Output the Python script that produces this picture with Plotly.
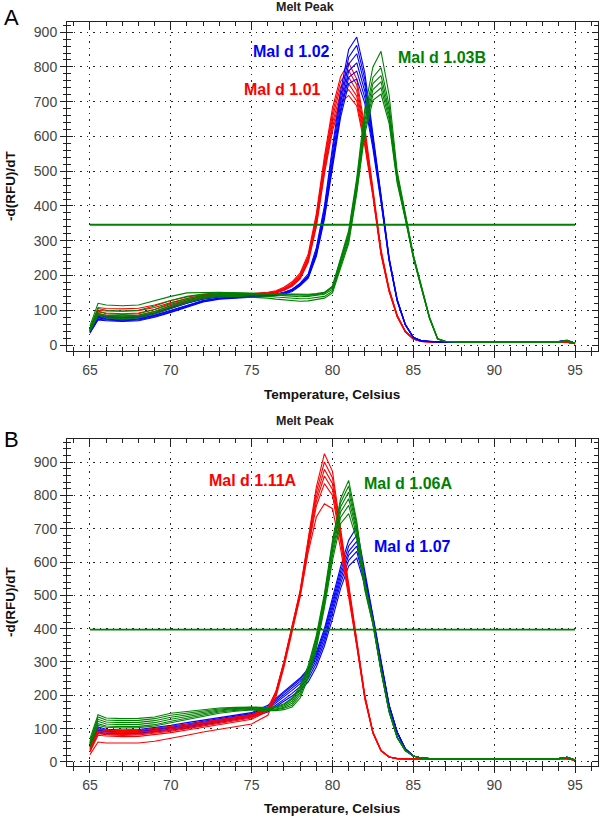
import plotly.graph_objects as go

# ---------------- data ----------------
TEMP = [65, 65.5, 66, 67, 68, 69, 70, 71, 72, 73, 74, 75, 76, 76.5, 77, 77.5, 78, 78.5,
        79, 79.5, 80, 80.5, 81, 81.5, 82, 82.5, 83, 83.5, 84, 84.5, 85, 85.5, 86, 86.5,
        87, 88, 90, 92, 94, 94.5, 95]

# Panel A -- Mal d 1.01 (red)
A_MAL_D_101 = [
    [48,108,105,104,106,115,128,138,145,148,148,148,152,156,166,182,207,262,378,542,682,772,812,765,625,455,275,162,86,40,18,11,9,8,8,8,8,8,8,8,4],
    [44,100,98,97,99,108,122,134,142,146,147,147,150,154,163,178,202,255,368,530,668,758,790,748,612,448,270,160,85,40,18,11,9,8,8,8,8,8,8,8,4],
    [42,95,92,90,92,102,117,130,140,145,146,146,149,153,161,175,198,250,360,520,655,742,770,732,602,442,268,158,84,39,17,10,9,8,8,8,8,8,8,8,4],
    [40,90,86,84,86,96,112,127,138,143,145,145,148,152,160,173,195,246,352,510,640,725,752,716,592,438,265,157,83,39,17,10,9,8,8,8,8,8,8,8,4],
    [38,86,82,80,82,92,108,124,136,142,144,144,147,151,158,171,192,242,346,500,628,710,735,702,582,432,262,155,82,38,17,10,9,8,8,8,8,8,8,8,4],
    [36,82,80,78,80,90,105,121,134,141,143,143,146,150,157,169,190,238,340,492,616,697,718,688,572,426,260,154,81,38,17,10,9,8,8,8,8,8,8,8,4],
]
# Panel A -- Mal d 1.02 (blue)
A_MAL_D_102 = [
    [40,80,76,74,76,86,100,115,128,135,138,140,142,145,150,160,178,205,280,400,570,730,850,886,782,612,432,252,132,60,22,12,10,9,9,9,9,9,10,14,6],
    [38,78,74,72,74,84,98,113,127,134,137,139,141,144,149,158,175,200,272,390,555,712,828,862,765,602,428,250,130,60,22,12,10,9,9,9,9,9,10,12,6],
    [42,82,79,77,79,90,105,120,132,138,140,141,143,146,151,160,176,198,266,380,540,695,808,838,748,594,424,248,130,60,22,12,10,9,9,9,9,9,10,12,6],
    [36,74,72,70,72,82,96,111,125,133,136,138,140,143,148,156,172,195,260,370,525,678,788,812,730,585,420,246,128,58,22,12,10,9,9,9,9,9,10,12,6],
    [40,84,82,80,82,92,108,122,133,139,141,142,144,147,152,160,175,196,262,372,520,668,770,788,712,575,415,244,128,58,22,12,10,9,9,9,9,9,10,12,6],
    [34,72,70,68,70,80,94,110,124,132,135,137,139,142,146,154,170,192,255,362,510,655,752,765,695,565,410,242,126,58,21,12,10,9,9,9,9,9,10,12,6],
]
# Panel A -- Mal d 1.03B (green)
A_MAL_D_103B = [
    [55,120,115,113,115,128,140,150,152,152,150,148,146,145,144,143,142,143,145,150,170,250,330,480,680,800,845,720,500,380,260,170,80,18,10,9,9,9,9,12,6],
    [50,105,100,98,100,112,128,140,147,150,150,149,148,147,146,145,145,146,148,152,168,245,322,470,660,770,798,690,490,375,258,168,80,18,10,9,9,9,9,12,6],
    [48,98,90,88,90,102,120,134,143,147,148,148,147,146,145,144,143,144,146,150,165,240,315,460,645,752,775,675,484,372,256,166,78,18,10,9,9,9,9,12,6],
    [45,92,85,83,85,97,114,130,140,145,146,146,145,144,142,140,139,140,142,146,160,235,308,452,632,735,757,662,478,368,254,165,78,18,10,9,9,9,9,12,6],
    [42,88,82,80,82,93,110,126,137,142,143,142,140,138,136,134,133,134,136,140,155,228,300,444,620,720,740,650,472,365,252,164,77,17,10,9,9,9,9,12,6],
    [40,85,78,76,78,90,106,122,134,139,140,138,135,132,130,128,126,127,130,135,150,222,292,436,608,704,722,638,466,362,250,162,76,17,10,9,9,9,9,12,6],
]
A_THRESHOLD = 346

# Panel B -- Mal d 1.11A (red)
B_MAL_D_111A = [
    [42,98,95,94,95,100,106,113,120,127,134,142,162,212,302,405,515,670,825,925,872,700,530,370,200,90,35,15,10,9,9,9,9,9,9,9,9,9,9,10,5],
    [38,92,90,88,89,94,100,108,116,124,131,139,160,210,300,402,512,665,810,900,852,690,524,366,198,89,35,15,10,9,9,9,9,9,9,9,9,9,9,10,5],
    [35,88,85,83,84,89,96,104,112,120,128,136,158,208,298,400,508,658,795,878,835,680,518,362,196,88,34,15,10,9,9,9,9,9,9,9,9,9,9,10,5],
    [34,85,82,80,81,86,92,100,108,116,124,132,155,205,295,397,505,650,782,858,818,672,512,358,194,88,34,15,10,9,9,9,9,9,9,9,9,9,9,10,5],
    [30,80,78,76,77,82,88,96,104,112,120,128,152,202,292,394,500,642,768,835,800,662,506,354,192,87,34,15,10,9,9,9,9,9,9,9,9,9,9,10,5],
    [22,60,57,56,57,62,70,80,90,98,106,114,140,195,285,390,495,630,735,775,760,640,495,348,188,86,33,15,10,9,9,9,9,9,9,9,9,9,9,10,5],
]
# Panel B -- Mal d 1.06A (green)
B_MAL_D_106A = [
    [70,142,132,130,131,135,146,152,158,162,164,165,163,166,175,192,228,290,380,505,665,790,845,722,540,422,280,155,75,35,18,12,10,10,10,10,10,10,10,14,6],
    [62,135,126,124,125,130,140,147,154,159,162,164,162,164,172,188,222,282,372,498,655,778,828,712,535,420,278,154,75,35,18,12,10,10,10,10,10,10,10,14,6],
    [58,128,120,118,119,124,134,142,150,156,160,162,160,162,168,182,215,275,365,490,645,765,810,702,530,418,276,153,74,35,18,12,10,10,10,10,10,10,10,14,6],
    [55,122,114,112,113,118,128,137,146,153,158,160,158,159,164,176,208,268,356,482,632,750,790,692,525,416,275,152,74,34,18,12,10,10,10,10,10,10,10,14,6],
    [50,115,108,106,107,112,122,132,142,150,155,158,156,157,161,170,200,260,348,472,620,734,770,680,520,414,273,151,73,34,18,12,10,10,10,10,10,10,10,14,6],
    [45,110,104,102,103,108,118,128,138,146,152,156,154,154,157,165,192,252,340,462,605,715,745,668,515,412,272,150,73,34,18,12,10,10,10,10,10,10,10,14,6],
]
# Panel B -- Mal d 1.07 (blue)
B_MAL_D_107 = [
    [58,105,98,96,97,103,110,118,126,134,140,148,170,192,212,232,252,280,330,400,490,585,665,705,572,442,302,172,90,40,18,12,10,10,10,10,10,10,10,14,6],
    [55,100,95,93,94,100,106,114,122,130,137,145,166,188,208,228,248,275,322,392,480,572,648,680,560,436,300,170,90,40,18,12,10,10,10,10,10,10,10,14,6],
    [52,96,92,90,91,97,103,111,119,127,134,142,162,182,202,222,242,268,315,383,470,560,632,662,552,432,298,170,89,40,18,12,10,10,10,10,10,10,10,14,6],
    [50,94,90,88,89,95,100,108,116,124,132,140,158,176,196,215,235,260,306,372,458,548,620,648,545,428,296,168,89,39,18,12,10,10,10,10,10,10,10,14,6],
    [48,90,86,85,86,92,98,106,114,122,130,138,154,170,188,206,226,250,296,360,445,535,605,632,538,424,294,168,88,39,18,12,10,10,10,10,10,10,10,14,6],
    [45,88,84,83,84,90,95,103,111,119,127,135,150,165,182,198,216,240,285,348,430,520,588,612,530,420,292,166,88,39,18,12,10,10,10,10,10,10,10,14,6],
]
B_THRESHOLD = 397
THRESHOLD_SPAN = [65, 95]

RED, BLUE, GREEN = "#ff0000", "#0000ff", "#008000"

# ---------------- figure ----------------
fig = go.Figure()

def add_group(curves, color, xa, ya):
    for c in curves:
        fig.add_trace(go.Scatter(x=TEMP, y=c, mode="lines", line=dict(color=color, width=1.1),
                                 xaxis=xa, yaxis=ya, showlegend=False, hoverinfo="skip"))

add_group(A_MAL_D_101, RED, "x", "y")
add_group(A_MAL_D_102, BLUE, "x", "y")
add_group(A_MAL_D_103B, GREEN, "x", "y")
fig.add_trace(go.Scatter(x=THRESHOLD_SPAN, y=[A_THRESHOLD] * 2, mode="lines",
                         line=dict(color=GREEN, width=1.8), xaxis="x", yaxis="y",
                         showlegend=False, hoverinfo="skip"))

add_group(B_MAL_D_107, BLUE, "x2", "y2")
add_group(B_MAL_D_111A, RED, "x2", "y2")
add_group(B_MAL_D_106A, GREEN, "x2", "y2")
fig.add_trace(go.Scatter(x=THRESHOLD_SPAN, y=[B_THRESHOLD] * 2, mode="lines",
                         line=dict(color=GREEN, width=1.8), xaxis="x2", yaxis="y2",
                         showlegend=False, hoverinfo="skip"))

# empty traces so overlay tick axes are instantiated
fig.add_trace(go.Scatter(x=[], y=[], xaxis="x3", yaxis="y3", showlegend=False))
fig.add_trace(go.Scatter(x=[], y=[], xaxis="x4", yaxis="y4", showlegend=False))

W, H = 600, 823

def px_x(p):
    return p / W

def px_y(p):
    return 1 - p / H

XDOM = [px_x(67), px_x(598)]
TOP_DOM = [px_y(353), px_y(22)]
BOT_DOM = [px_y(770), px_y(441)]
XR = [63.58, 96.42]
YR_A = [-18, 929.6]
YR_B = [-12.8, 969.5]

AX = "#222222"
GRID_DASH = "1.5px,5px"
TICKFONT = dict(family="Liberation Sans, Arial, sans-serif", size=14, color="#444444")

def main_x(dom_anchor):
    return dict(domain=XDOM, range=XR, anchor=dom_anchor, tick0=65, dtick=5,
                ticks="outside", ticklen=6, tickcolor=AX, showline=True, linecolor=AX,
                linewidth=1, mirror=True, showgrid=True, gridcolor="#222222",
                griddash=GRID_DASH, gridwidth=1, zeroline=False, tickfont=TICKFONT,
                minor=dict(dtick=1, ticks="outside", ticklen=4, tickcolor=AX, showgrid=False),
                fixedrange=True)

def main_y(dom, rng, anchor):
    return dict(domain=dom, range=rng, anchor=anchor, tick0=0, dtick=100,
                ticks="outside", ticklen=6, tickcolor=AX, showline=True, linecolor=AX,
                linewidth=1, mirror=True, showgrid=True, gridcolor="#222222",
                griddash=GRID_DASH, gridwidth=1, zeroline=False, tickfont=TICKFONT,
                minor=dict(dtick=20, ticks="outside", ticklen=3, tickcolor=AX, showgrid=False),
                fixedrange=True)

def over_x(base, anchor):
    return dict(overlaying=base, anchor=anchor, range=XR, tick0=65, dtick=5,
                ticks="inside", ticklen=6, tickcolor=AX, showline=True, linecolor=AX,
                mirror="ticks", showticklabels=False, showgrid=False, zeroline=False,
                minor=dict(dtick=1, ticks="inside", ticklen=4, tickcolor=AX, showgrid=False),
                fixedrange=True)

def over_y(base, rng, anchor):
    return dict(overlaying=base, anchor=anchor, range=rng, tick0=0, dtick=100, side="left",
                ticks="inside", ticklen=6, tickcolor=AX, showline=True, linecolor=AX,
                mirror="ticks", showticklabels=False, showgrid=False, zeroline=False,
                minor=dict(dtick=20, ticks="inside", ticklen=4, tickcolor=AX, showgrid=False),
                fixedrange=True)

LBL = "Liberation Sans, Arial, sans-serif"
annotations = []

def ann(text, x, y, size, color, angle=0, bold=True, xanchor="center"):
    annotations.append(dict(text=("<b>%s</b>" % text) if bold else text, x=px_x(x), y=px_y(y),
                            xref="paper", yref="paper", showarrow=False, textangle=angle,
                            xanchor=xanchor, yanchor="middle",
                            font=dict(family=LBL, size=size, color=color)))

# panel A texts
ann("A", 11, 18, 22, "#000000", bold=False)
ann("Melt Peak", 305, 7, 12.5, "#222222")
ann("Temperature, Celsius", 332, 396, 13.5, "#111111")
ann("-d(RFU)/dT", 10, 187, 13.5, "#111111", angle=-90)
ann("Mal d 1.02", 291, 52, 16, BLUE)
ann("Mal d 1.01", 282, 90, 16, RED)
ann("Mal d 1.03B", 442, 58, 16, GREEN)

# panel B texts
ann("B", 11, 442, 22, "#000000", bold=False)
ann("Melt Peak", 305, 423, 12.5, "#222222")
ann("Temperature, Celsius", 332, 812, 13.5, "#111111")
ann("-d(RFU)/dT", 10, 605, 13.5, "#111111", angle=-90)
ann("Mal d 1.11A", 253, 483, 16, RED)
ann("Mal d 1.06A", 408, 486, 16, GREEN)
ann("Mal d 1.07", 412, 549, 16, BLUE)

fig.update_layout(
    width=W, height=H, margin=dict(l=0, r=0, t=0, b=0),
    paper_bgcolor="#ffffff", plot_bgcolor="#ffffff",
    xaxis=main_x("y"), yaxis=main_y(TOP_DOM, YR_A, "x"),
    xaxis2=main_x("y2"), yaxis2=main_y(BOT_DOM, YR_B, "x2"),
    xaxis3=over_x("x", "y"), yaxis3=over_y("y", YR_A, "x"),
    xaxis4=over_x("x2", "y2"), yaxis4=over_y("y2", YR_B, "x2"),
    annotations=annotations, showlegend=False,
)

fig.write_html("out.html", config={"displayModeBar": False},
               post_script="document.body.style.margin='0px';document.body.style.overflow='hidden';")
